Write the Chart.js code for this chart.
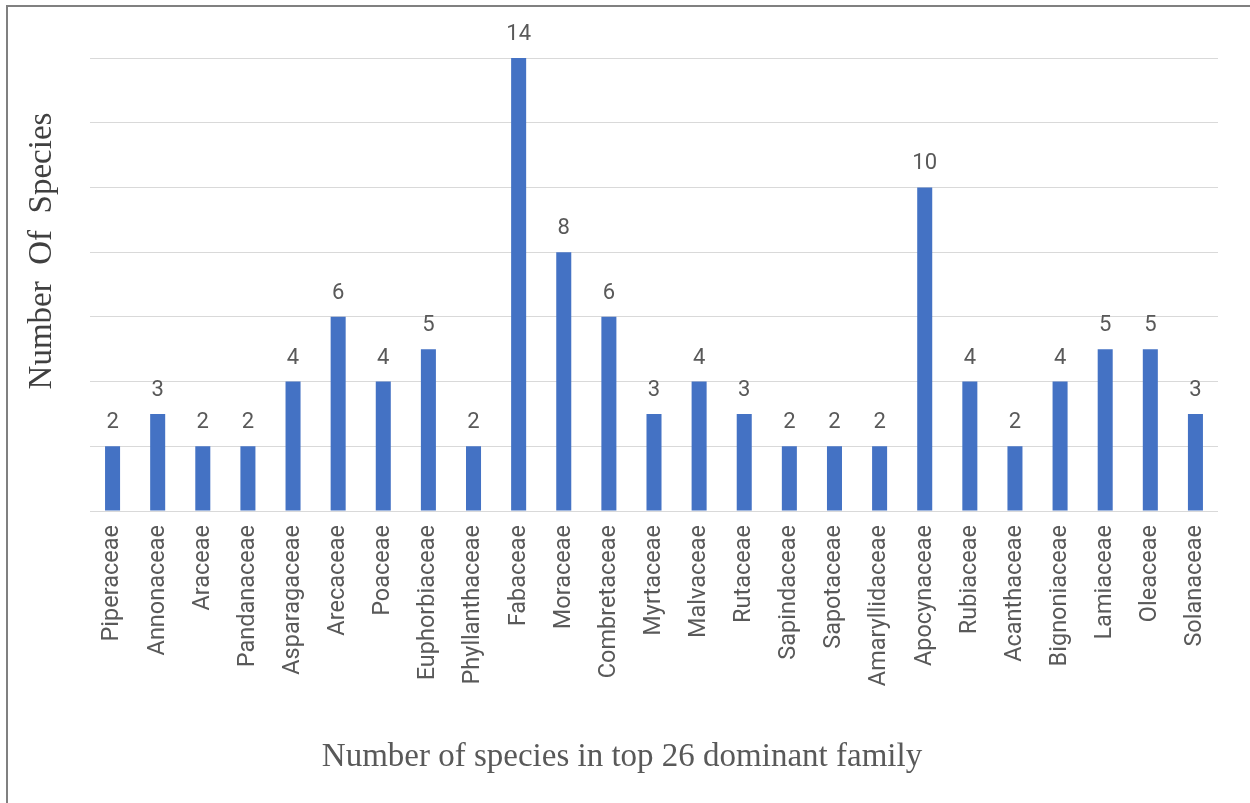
<!DOCTYPE html>
<html>
<head>
<meta charset="utf-8">
<script src="https://cdn.jsdelivr.net/npm/chart.js@4.4.1/dist/chart.umd.min.js"></script>
<style>
  html, body { margin: 0; padding: 0; background: #ffffff; }
  #wrap { position: relative; width: 1250px; height: 803px; overflow: hidden; }
  #frame { position: absolute; left: 6px; top: 5px; width: 1260px; height: 820px;
           border-top: 2px solid #808080; border-left: 2px solid #808080; box-sizing: border-box; }
  canvas { position: absolute; left: 0; top: 0; }
</style>
</head>
<body>
<div id="wrap">
  <canvas id="chart" width="1250" height="803"></canvas>
  <div id="frame"></div>
</div>
<script>
// Families and the number of species recorded in each
const families = [
  'Piperaceae', 'Annonaceae', 'Araceae', 'Pandanaceae', 'Asparagaceae',
  'Arecaceae', 'Poaceae', 'Euphorbiaceae', 'Phyllanthaceae', 'Fabaceae',
  'Moraceae', 'Combretaceae', 'Myrtaceae', 'Malvaceae', 'Rutaceae',
  'Sapindaceae', 'Sapotaceae', 'Amaryllidaceae', 'Apocynaceae', 'Rubiaceae',
  'Acanthaceae', 'Bignoniaceae', 'Lamiaceae', 'Oleaceae', 'Solanaceae'
];
const speciesCounts = [2, 3, 2, 2, 4, 6, 4, 5, 2, 14, 8, 6, 3, 4, 3, 2, 2, 2, 10, 4, 2, 4, 5, 5, 3];

const yTitle = 'Number  Of  Species';
const xTitle = 'Number of species in top 26 dominant family';

// Value labels above each bar
const valueLabels = {
  id: 'valueLabels',
  afterDatasetsDraw(chart) {
    const ctx = chart.ctx;
    const meta = chart.getDatasetMeta(0);
    ctx.save();
    ctx.fillStyle = '#595959';
    ctx.font = '22px Roboto';
    ctx.textAlign = 'center';
    ctx.textBaseline = 'alphabetic';
    meta.data.forEach((bar, i) => {
      ctx.fillText(String(speciesCounts[i]), bar.x, bar.y - 18);
    });
    ctx.restore();
  }
};

// Axis titles in serif type, placed in the reserved axis space
const axisTitles = {
  id: 'axisTitles',
  afterDraw(chart) {
    const ctx = chart.ctx;
    ctx.save();
    ctx.textAlign = 'center';
    ctx.textBaseline = 'middle';

    ctx.fillStyle = '#595959';
    ctx.font = '33px "Liberation Serif"';
    ctx.fillText(xTitle, 622, 757);

    ctx.translate(42, 251);
    ctx.rotate(-Math.PI / 2);
    ctx.fillStyle = '#404040';
    ctx.font = '33px "Liberation Serif"';
    ctx.fillText(yTitle, 0, 0);
    ctx.restore();
  }
};

new Chart(document.getElementById('chart'), {
  type: 'bar',
  data: {
    labels: families,
    datasets: [{
      data: speciesCounts,
      backgroundColor: '#4472C4',
      borderWidth: 0,
      categoryPercentage: 1,
      barPercentage: 0.333
    }]
  },
  options: {
    responsive: false,
    animation: false,
    layout: { padding: { left: 8, right: 32, top: 58, bottom: 18 } },
    plugins: {
      legend: { display: false },
      tooltip: { enabled: false }
    },
    scales: {
      x: {
        grid: { display: false, drawTicks: false },
        border: { display: false },
        ticks: {
          color: '#595959',
          font: { family: 'Roboto', size: 23.5 },
          minRotation: 90,
          maxRotation: 90,
          autoSkip: false,
          padding: 14
        },
        afterFit(scale) { scale.height = 803 - 511 - 18; }
      },
      y: {
        min: 0,
        max: 14,
        grid: { color: '#d9d9d9', lineWidth: 1, drawTicks: false },
        border: { display: false },
        ticks: { display: false, stepSize: 2 },
        afterFit(scale) { scale.width = 82; }
      }
    }
  },
  plugins: [valueLabels, axisTitles]
});
</script>
</body>
</html>
